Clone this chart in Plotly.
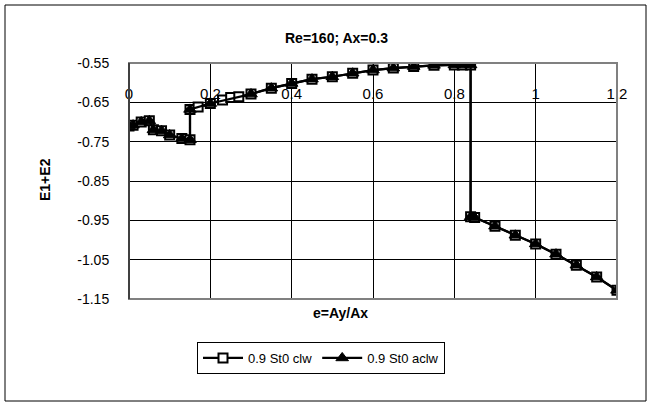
import plotly.graph_objects as go

# Sum of energies E1+E2 versus amplitude ratio e = Ay/Ax (Re=160, Ax=0.3)
e_clw = [0.00, 0.01, 0.03, 0.05, 0.06, 0.08, 0.10, 0.13, 0.15, 0.15, 0.17, 0.20,
         0.23, 0.25, 0.27, 0.30, 0.35, 0.40, 0.45, 0.50, 0.55, 0.60, 0.65, 0.70,
         0.75, 0.80, 0.82, 0.84, 0.84, 0.85, 0.90, 0.95, 1.00, 1.05, 1.10, 1.15, 1.20]
E_clw = [-0.710, -0.708, -0.700, -0.697, -0.720, -0.722, -0.733, -0.742, -0.745, -0.668,
         -0.662, -0.653, -0.644, -0.638, -0.636, -0.629, -0.614, -0.602, -0.591, -0.585,
         -0.576, -0.568, -0.563, -0.559, -0.556, -0.555, -0.555, -0.555, -0.941, -0.943,
         -0.965, -0.988, -1.010, -1.036, -1.064, -1.094, -1.128]

e_aclw = [0.00, 0.01, 0.03, 0.05, 0.06, 0.08, 0.10, 0.13, 0.15, 0.15, 0.20, 0.30,
          0.35, 0.40, 0.45, 0.50, 0.55, 0.60, 0.65, 0.70, 0.75, 0.80, 0.82, 0.84,
          0.84, 0.85, 0.90, 0.95, 1.00, 1.05, 1.10, 1.15, 1.20]
E_aclw = [-0.710, -0.708, -0.700, -0.697, -0.720, -0.722, -0.733, -0.742, -0.745, -0.668,
          -0.653, -0.629, -0.614, -0.602, -0.591, -0.585, -0.576, -0.568, -0.563, -0.559,
          -0.556, -0.555, -0.555, -0.555, -0.941, -0.943, -0.965, -0.988, -1.010, -1.036,
          -1.064, -1.094, -1.128]

series_names = ["0.9 St0 clw", "0.9 St0 aclw"]
x_ticks = [0, 0.2, 0.4, 0.6, 0.8, 1.0, 1.2]
x_ticklabels = ["0", "0.2", "0.4", "0.6", "0.8", "1", "1.2"]
y_ticks = [-0.55, -0.65, -0.75, -0.85, -0.95, -1.05, -1.15]
y_ticklabels = ["-0.55", "-0.65", "-0.75", "-0.85", "-0.95", "-1.05", "-1.15"]

W, H = 650, 405
L, R, T, B = 129, 33, 63, 106
pw, ph = W - L - R, H - T - B
FONT = "Liberation Sans, Arial, sans-serif"

fig = go.Figure()
fig.add_trace(go.Scatter(
    x=e_clw, y=E_clw, name=series_names[0], mode="lines+markers",
    line=dict(color="black", width=2.2),
    marker=dict(symbol="square", size=9, color="white", line=dict(color="black", width=2)),
))
fig.add_trace(go.Scatter(
    x=e_aclw, y=E_aclw, name=series_names[1], mode="lines+markers",
    line=dict(color="black", width=2.2),
    marker=dict(symbol="triangle-up", size=11, color="black", line=dict(color="black", width=1)),
))

ymin, ymax = -1.15, -0.55
cross = (-0.65 - ymin) / (ymax - ymin)  # x axis crosses at E=-0.65


def px(xp):
    return (xp - L) / pw


def py(yp):
    return (H - B - yp) / ph


def label(text, x, y, angle=0):
    return dict(text=text, xref="paper", yref="paper", x=px(x), y=py(y),
                xanchor="center", yanchor="middle", showarrow=False,
                textangle=angle, font=dict(size=14))


fig.update_layout(
    width=W, height=H,
    margin=dict(l=L, r=R, t=T, b=B),
    paper_bgcolor="white", plot_bgcolor="white",
    font=dict(family=FONT, size=14, color="black"),
    showlegend=True,
    legend=dict(
        orientation="h", x=px(321), xanchor="center", y=py(342), yanchor="top",
        bordercolor="black", borderwidth=1, bgcolor="white",
        font=dict(size=13), itemwidth=40, tracegroupgap=0,
    ),
    xaxis=dict(
        range=[0, 1.2], tickvals=x_ticks, ticktext=x_ticklabels,
        anchor="free", position=cross, side="top",
        showgrid=True, gridcolor="black", gridwidth=1,
        showline=False, zeroline=False, ticks="",
        tickfont=dict(size=15),
    ),
    yaxis=dict(
        range=[ymin, ymax], tickvals=y_ticks, ticktext=y_ticklabels,
        showgrid=True, gridcolor="black", gridwidth=1,
        showline=True, linecolor="black", linewidth=1, zeroline=False,
        ticks="", ticklabelstandoff=16, tickfont=dict(size=14),
    ),
    shapes=[
        # plot area frame
        dict(type="rect", xref="paper", yref="paper", x0=0, x1=1, y0=0, y1=1,
             line=dict(color="#808080", width=2), layer="above"),
        # y axis line on top of the frame
        dict(type="line", xref="paper", yref="paper", x0=0, x1=0, y0=0, y1=1,
             line=dict(color="black", width=1), layer="above"),
        # outer chart frame
        dict(type="rect", xref="paper", yref="paper",
             x0=px(5), x1=px(646), y0=py(401), y1=py(5),
             line=dict(color="black", width=1)),
    ],
    annotations=[
        label("<b>Re=160; Ax=0.3</b>", 336, 38),
        label("<b>e=Ay/Ax</b>", 340, 313),
        label("<b>E1+E2</b>", 45, 180, -90),
    ],
)

fig.write_html("out.html")
